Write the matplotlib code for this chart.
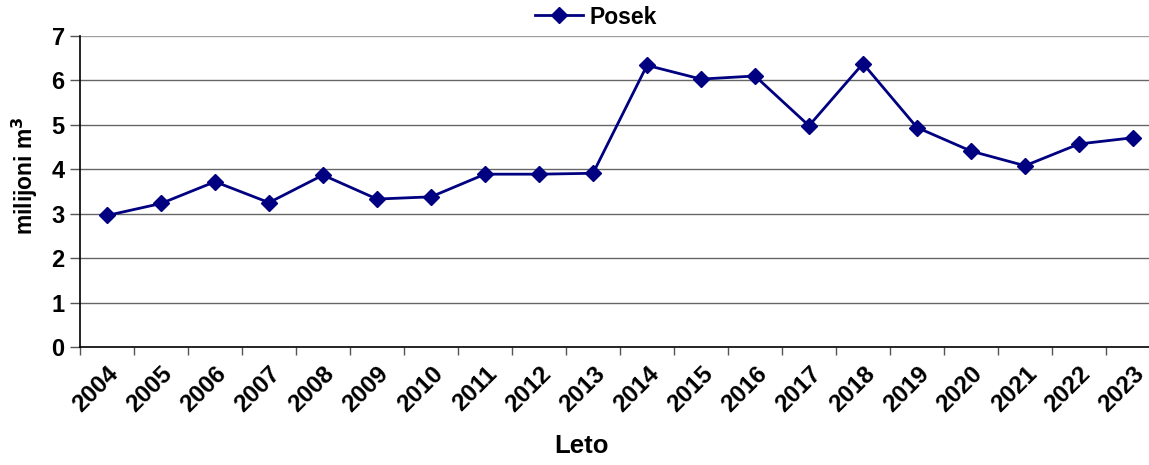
import matplotlib
matplotlib.use("Agg")
import matplotlib.pyplot as plt
import matplotlib.transforms as mtransforms
import numpy as np

years = ["2004", "2005", "2006", "2007", "2008", "2009", "2010", "2011", "2012", "2013",
         "2014", "2015", "2016", "2017", "2018", "2019", "2020", "2021", "2022", "2023"]
posek = [2.96, 3.23, 3.72, 3.25, 3.87, 3.33, 3.38, 3.89, 3.89, 3.91,
         6.34, 6.03, 6.10, 4.98, 6.38, 4.94, 4.41, 4.08, 4.57, 4.71]
series_name = "Posek"
y_ticks = [0, 1, 2, 3, 4, 5, 6, 7]

plt.rcParams['font.family'] = ['Liberation Sans', 'DejaVu Sans']

fig = plt.figure(figsize=(11.49, 4.65), dpi=100)
W, H = 1149, 465
ax = fig.add_axes([80 / W, 1 - 347 / H, 1080 / W, (347 - 36) / H])

x = np.arange(len(years))
ax.plot(x, posek, color='#000080', linewidth=2.0, marker='D', markersize=8,
        label=series_name, clip_on=False, zorder=3)

ax.set_xlim(-0.5, len(years) - 0.5)
ax.set_ylim(0, 7)
ax.set_yticks(y_ticks)
ax.set_yticklabels([str(v) for v in y_ticks], fontsize=17, fontweight='bold')
ax.set_xticks(x)
ax.set_xticklabels(years, rotation=45, ha='right', rotation_mode='anchor',
                   fontsize=17.5, fontweight='bold')
offset = mtransforms.ScaledTranslation(-5 / 100, -4 / 100, fig.dpi_scale_trans)
for lbl in ax.get_xticklabels():
    lbl.set_transform(lbl.get_transform() + offset)
ax.set_xticks(np.arange(len(years) + 1) - 0.5, minor=True)
ax.tick_params(axis='x', which='major', length=0, pad=11)
ax.tick_params(axis='x', which='minor', length=6, width=1, color='#555555')
ax.tick_params(axis='y', which='major', length=7, width=1, color='#555555', pad=4)

for v in y_ticks[1:]:
    ax.axhline(v, color='#a0a0a0' if v == 7 else '#666666', linewidth=1.0, zorder=1)

for s in ['top', 'right']:
    ax.spines[s].set_visible(False)
ax.spines['left'].set_color('black')
ax.spines['bottom'].set_color('black')
ax.spines['left'].set_linewidth(1.2)
ax.spines['bottom'].set_linewidth(1.2)

ax.set_xlabel("Leto", fontsize=18.5, fontweight='bold')
ax.xaxis.set_label_coords((581 - 80) / 1080, (347 - 434) / 311)
ax.set_ylabel("milijoni m$^\\mathbf{3}$", fontsize=16.5, fontweight='bold')
ax.yaxis.set_label_coords((40 - 80) / 1080, (347 - 176) / 311)

leg = fig.legend(loc='center', bbox_to_anchor=(596 / W, 1 - 17 / H), frameon=False,
                 prop={'size': 16.5, 'weight': 'bold'}, handlelength=2.1,
                 handletextpad=0.3, borderpad=0)

fig.savefig("out.png", dpi=100)
